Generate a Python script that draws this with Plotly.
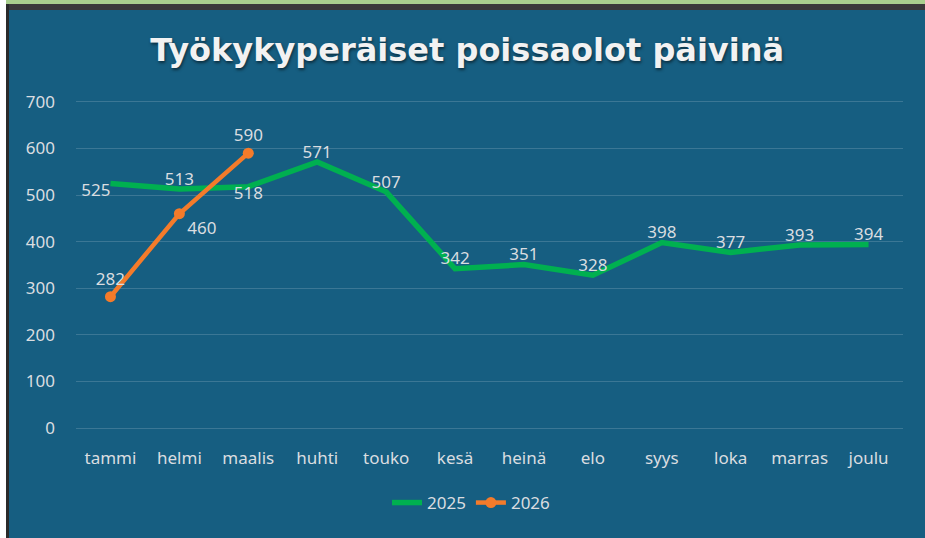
import plotly.graph_objects as go

months = ["tammi", "helmi", "maalis", "huhti", "touko", "kesä", "heinä", "elo", "syys", "loka", "marras", "joulu"]
v2025 = [525, 513, 518, 571, 507, 342, 351, 328, 398, 377, 393, 394]
v2026 = [282, 460, 590]
pos2025 = ["bottom left", "top center", "bottom center", "top center", "top center", "top center",
           "top center", "top center", "top center", "top center", "top center", "top center"]
pos2026 = ["top center", "bottom right", "top center"]
yticks = [0, 100, 200, 300, 400, 500, 600, 700]

BG = "#165E81"
TXT = "#DADDE0"
FONT = "Noto Sans"

fig = go.Figure()
fig.add_trace(go.Scatter(
    x=months, y=v2025, name="2025", mode="lines+text",
    line=dict(color="#00B050", width=5.5),
    text=[str(v) for v in v2025], textposition=pos2025,
    textfont=dict(color=TXT, size=17, family=FONT),
))
fig.add_trace(go.Scatter(
    x=months[:len(v2026)], y=v2026, name="2026", mode="lines+markers+text",
    line=dict(color="#F47B2A", width=4.5),
    marker=dict(color="#F47B2A", size=11),
    text=[str(v) for v in v2026], textposition=pos2026,
    textfont=dict(color=TXT, size=17, family=FONT),
))

L, R, T, B = 76, 22, 100, 108
W, H = 925, 538
pw, ph = W - L - R, H - T - B

def px(x):
    return (x - L) / pw

def py(y):
    return (H - B - y) / ph

shapes = [
    dict(type="rect", xref="paper", yref="paper", x0=px(-2), x1=px(W + 2), y0=py(4), y1=py(-2),
         fillcolor="#A9D08E", line_width=0, layer="above"),
    dict(type="rect", xref="paper", yref="paper", x0=px(-2), x1=px(W + 2), y0=py(10), y1=py(4),
         fillcolor="#3A3A3A", line_width=0, layer="above"),
    dict(type="rect", xref="paper", yref="paper", x0=px(-2), x1=px(6), y0=py(H + 2), y1=py(-2),
         fillcolor="#FFFFFF", line_width=0, layer="above"),
    dict(type="rect", xref="paper", yref="paper", x0=px(6), x1=px(9), y0=py(H + 2), y1=py(4),
         fillcolor="#2A2A2A", line_width=0, layer="above"),
]

fig.update_layout(
    width=W, height=H,
    margin=dict(l=L, r=R, t=T, b=B),
    paper_bgcolor=BG, plot_bgcolor=BG,
    title=dict(text="<b>Työkykyperäiset poissaolot päivinä</b>", x=0.505, xanchor="center",
               y=1 - 50 / H, yanchor="middle",
               font=dict(family="DejaVu Sans", size=32, color="#F2F2F2", shadow="1px 2px 3px rgba(0,0,0,0.5)")),
    font=dict(family=FONT, color=TXT, size=17),
    xaxis=dict(showgrid=False, zeroline=False, showline=False, ticks="", ticklabelstandoff=16,
               tickfont=dict(size=17, color=TXT, family=FONT), range=[-0.5, 11.5]),
    yaxis=dict(range=[-4, 704], tickvals=yticks, showgrid=True,
               gridcolor="rgba(255,255,255,0.16)", gridwidth=1, zeroline=False,
               showline=False, ticks="", ticklabelstandoff=20,
               tickfont=dict(size=17, color=TXT, family=FONT)),
    legend=dict(orientation="h", x=px(471), xanchor="center", y=py(503), yanchor="middle",
                font=dict(size=17, color=TXT, family=FONT), bgcolor="rgba(0,0,0,0)"),
    showlegend=True,
    shapes=shapes,
)

fig.write_html("out.html", config={"displayModeBar": False},
               post_script="document.body.style.margin='0';document.body.style.padding='0';")
